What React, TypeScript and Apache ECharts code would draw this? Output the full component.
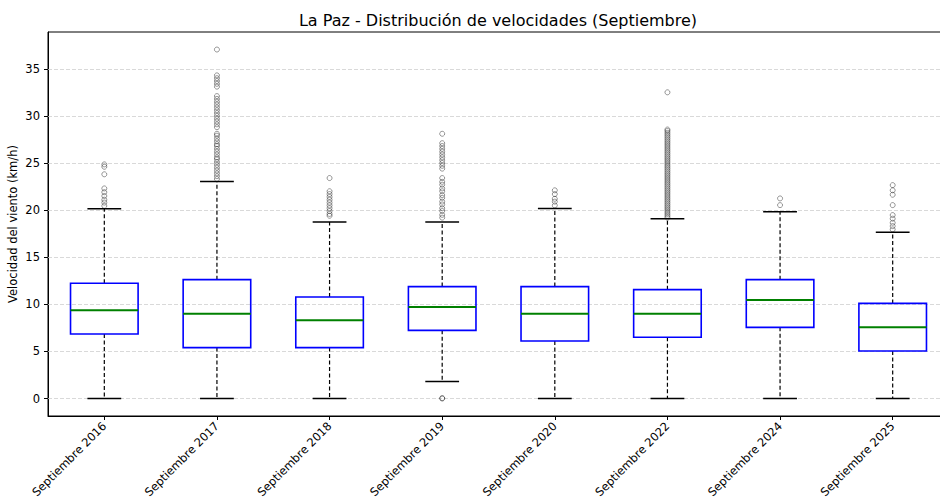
import React, { useEffect, useRef } from "react";
import * as echarts from "echarts";

const categories = [
  "Septiembre 2016",
  "Septiembre 2017",
  "Septiembre 2018",
  "Septiembre 2019",
  "Septiembre 2020",
  "Septiembre 2022",
  "Septiembre 2024",
  "Septiembre 2025",
];

const q1 = [6.85, 5.41, 5.41, 7.24, 6.11, 6.5, 7.56, 5.05];
const medians = [9.36, 9.01, 8.3, 9.72, 9.01, 9.01, 10.46, 7.56];
const q3 = [12.23, 12.62, 10.78, 11.88, 11.88, 11.56, 12.62, 10.1];
const whiskerLow = [0, 0, 0, 1.8, 0, 0, 0, 0];
const whiskerHigh = [20.15, 23.04, 18.73, 18.73, 20.18, 19.09, 19.83, 17.64];

const outliers2016 = [24.85, 24.6, 23.8, 22.3, 21.9, 21.5, 21.1, 20.8, 20.45];
const outliers2017 = [
  37.04, 34.3, 34.0, 33.7, 33.4, 33.1, 32.1, 31.8, 31.5, 31.2, 30.9, 30.6, 30.3,
  30.0, 29.7, 29.4, 29.1, 28.8, 28.1, 27.9, 27.6, 27.3, 27.0, 26.8, 26.5, 26.2,
  25.9, 25.6, 25.4, 25.1, 24.8, 24.5, 24.2, 23.9, 23.6, 23.3,
];
const outliers2018 = [23.4, 22.0, 21.7, 21.4, 21.1, 20.8, 20.5, 20.2, 19.9, 19.6, 19.4];
const outliers2019 = [
  28.1, 27.1, 26.8, 26.5, 26.2, 25.9, 25.6, 25.3, 25.0, 24.7, 24.4, 23.4, 23.0,
  22.7, 22.3, 22.0, 21.6, 21.3, 20.9, 20.6, 20.2, 19.9, 19.5, 19.2, 0, 0.05,
];
const outliers2020 = [22.1, 21.7, 21.2, 20.9, 20.5];
const outliers2022 = [
  32.5, 28.55, 28.4, 28.2, 28.0, 27.8, 27.6, 27.4, 27.2, 27.0, 26.8, 26.6, 26.4,
  26.2, 26.0, 25.8, 25.6, 25.4, 25.2, 25.0, 24.8, 24.6, 24.4, 24.2, 24.0, 23.8,
  23.6, 23.4, 23.2, 23.0, 22.8, 22.6, 22.4, 22.2, 22.0, 21.8, 21.6, 21.4, 21.2,
  21.0, 20.8, 20.6, 20.4, 20.2, 20.0, 19.8, 19.6, 19.4, 19.2,
];
const outliers2024 = [21.24, 20.53];
const outliers2025 = [22.65, 22.1, 21.63, 20.53, 19.47, 19.09, 18.66, 18.3, 17.95];

const allOutliers = [
  outliers2016,
  outliers2017,
  outliers2018,
  outliers2019,
  outliers2020,
  outliers2022,
  outliers2024,
  outliers2025,
];

const yTicks = [0, 5, 10, 15, 20, 25, 30, 35];

const FONT = "DejaVu Sans";

export default function App() {
  const ref = useRef<HTMLDivElement>(null);

  useEffect(() => {
    if (!ref.current) return;
    const chart = echarts.init(ref.current, undefined, { renderer: "svg" });

    const boxData = categories.map((_, i) => [
      i,
      q1[i],
      medians[i],
      q3[i],
      whiskerLow[i],
      whiskerHigh[i],
    ]);

    const outlierData: number[][] = [];
    allOutliers.forEach((arr, i) => arr.forEach((v) => outlierData.push([i, v])));

    const renderItem = (params: any, api: any) => {
      const idx = api.value(0);
      const pQ1 = api.coord([idx, api.value(1)]);
      const pMed = api.coord([idx, api.value(2)]);
      const pQ3 = api.coord([idx, api.value(3)]);
      const pLo = api.coord([idx, api.value(4)]);
      const pHi = api.coord([idx, api.value(5)]);
      const band = api.size([1, 0])[0];
      const bw = band * 0.6;
      const cw = bw / 2;
      const cx = pMed[0];
      const whiskerStyle = { stroke: "#000", lineWidth: 1.2, lineDash: [4, 2.5], fill: null };
      const capStyle = { stroke: "#000", lineWidth: 1.5, fill: null };
      return {
        type: "group",
        children: [
          {
            type: "line",
            shape: { x1: cx, y1: pQ3[1], x2: cx, y2: pHi[1] },
            style: whiskerStyle,
          },
          {
            type: "line",
            shape: { x1: cx, y1: pQ1[1], x2: cx, y2: pLo[1] },
            style: whiskerStyle,
          },
          {
            type: "line",
            shape: { x1: cx - cw / 2, y1: pHi[1], x2: cx + cw / 2, y2: pHi[1] },
            style: capStyle,
          },
          {
            type: "line",
            shape: { x1: cx - cw / 2, y1: pLo[1], x2: cx + cw / 2, y2: pLo[1] },
            style: capStyle,
          },
          {
            type: "rect",
            shape: { x: cx - bw / 2, y: pQ3[1], width: bw, height: pQ1[1] - pQ3[1] },
            style: { stroke: "#0000ff", lineWidth: 1.6, fill: null },
          },
          {
            type: "line",
            shape: { x1: cx - bw / 2, y1: pMed[1], x2: cx + bw / 2, y2: pMed[1] },
            style: { stroke: "#008000", lineWidth: 2, fill: null },
          },
        ],
      };
    };

    chart.setOption({
      animation: false,
      backgroundColor: "#ffffff",
      textStyle: { fontFamily: FONT },
      title: {
        text: "La Paz - Distribución de velocidades (Septiembre)",
        left: 493,
        textAlign: "center",
        top: 7,
        textStyle: { fontFamily: FONT, fontSize: 16, fontWeight: "normal", color: "#000" },
      },
      grid: {
        left: 48,
        top: 32,
        width: 901,
        height: 384,
        show: true,
        borderColor: "#000",
        borderWidth: 1,
        backgroundColor: "transparent",
        containLabel: false,
        outerBoundsMode: "none",
      },
      xAxis: {
        type: "category",
        data: categories,
        boundaryGap: true,
        axisLine: { show: true, onZero: false, lineStyle: { color: "#000", width: 1 } },
        axisTick: { show: true, alignWithLabel: true, length: 4, lineStyle: { color: "#000" } },
        axisLabel: {
          rotate: 45,
          interval: 0,
          margin: 8,
          fontFamily: FONT,
          fontSize: 11.5,
          color: "#000",
        },
        splitLine: { show: false },
      },
      yAxis: {
        type: "value",
        min: -1.85,
        max: 38.9,
        name: "Velocidad del viento (km/h)",
        nameLocation: "middle",
        nameGap: 29,
        nameMoveOverlap: false,
        nameTextStyle: { fontFamily: FONT, fontSize: 11.5, color: "#000" },
        axisLine: { show: true, onZero: false, lineStyle: { color: "#000", width: 1 } },
        axisTick: { show: true, length: 4, lineStyle: { color: "#000" }, customValues: yTicks },
        axisLabel: {
          margin: 8,
          fontFamily: FONT,
          fontSize: 11.5,
          color: "#000",
          customValues: yTicks,
        },
        splitLine: { show: false },
      },
      series: [
        {
          type: "line",
          data: [],
          silent: true,
          z: 1,
          markLine: {
            silent: true,
            z: 1,
            symbol: ["none", "none"],
            label: { show: false },
            lineStyle: { color: "#cfcfcf", type: [4, 2], width: 0.8 },
            data: yTicks.map((v) => ({ yAxis: v })),
          },
        },
        {
          type: "custom",
          renderItem,
          data: boxData,
          encode: { x: 0, y: [1, 2, 3, 4, 5] },
          z: 10,
          silent: true,
        },
        {
          type: "scatter",
          data: outlierData,
          symbol: "circle",
          symbolSize: 5,
          z: 11,
          silent: true,
          itemStyle: {
            color: "rgba(0,0,0,0)",
            borderColor: "rgba(0,0,0,0.5)",
            borderWidth: 1,
          },
        },
      ],
    });

    return () => chart.dispose();
  }, []);

  return (
    <div
      style={{
        position: "fixed",
        left: 0,
        top: 0,
        width: 940,
        height: 501,
        overflow: "hidden",
        background: "#fff",
      }}
    >
      <div ref={ref} style={{ width: 960, height: 501 }} />
    </div>
  );
}
